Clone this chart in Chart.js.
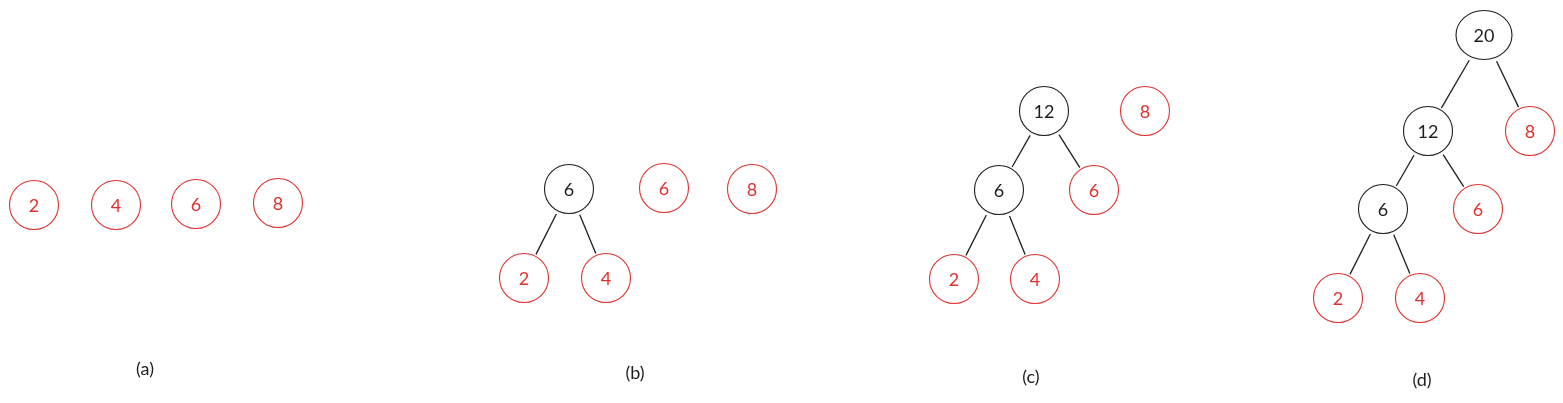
<!DOCTYPE html>
<html>
<head>
<meta charset="utf-8">
<script src="https://cdn.jsdelivr.net/npm/chart.js@4.4.1/dist/chart.umd.min.js"></script>
<style>
html,body{margin:0;padding:0;background:#fff;}
#wrap{width:1563px;height:403px;}
</style>
</head>
<body>
<div id="wrap"><canvas id="c" width="1563" height="403"></canvas></div>
<script>
// ---- data ----
const panelLabels = ['(a)', '(b)', '(c)', '(d)'];
const panelLabelX = [145, 635, 1031, 1422];
const panelLabelY = [369, 373, 377, 380];

// node weights, positions (in diagram units), and whether node is a merged (internal) node
const nodeValues = [2, 4, 6, 8,   6, 6, 8, 2, 4,   12, 8, 6, 6, 2, 4,   20, 12, 8, 6, 6, 2, 4];
const nodeX      = [34, 116, 196, 278,   569, 664, 752, 524, 606,   1044, 1145, 999, 1094, 954, 1035,   1484, 1428, 1530, 1383, 1478, 1338, 1420];
const nodeY      = [205, 205, 204, 203,  189, 188, 189, 278, 278,   111, 111, 190, 190, 279, 279,   35, 131, 131, 209, 209, 298, 298];
const nodeMerged = [0, 0, 0, 0,   1, 0, 0, 0, 0,   1, 0, 1, 0, 0, 0,   1, 1, 0, 1, 0, 0, 0];
const wideNodes  = [15];

// edges: [parent, child]
const edgeFrom = [4, 4,   9, 9, 11, 11,   15, 15, 16, 16, 18, 18];
const edgeTo   = [7, 8,   11, 12, 13, 14,  16, 17, 18, 19, 20, 21];

// ---- style ----
const RED = '#e03131';
const INK = '#1e1e1e';
const R = 24.5;          // circle radius
const EA = 28.5, EB = 25; // ellipse radii for wide node
const FONT = '18px Lato, "DejaVu Sans", sans-serif';

function nodeRadius(i, dx, dy) {
  if (wideNodes.includes(i)) {
    const d = Math.hypot(dx, dy);
    const c = dx / d, s = dy / d;
    return 1 / Math.sqrt((c / EA) * (c / EA) + (s / EB) * (s / EB));
  }
  return R;
}

// ellipse point style
const ell = document.createElement('canvas');
ell.width = 62; ell.height = 56;
{
  const g = ell.getContext('2d');
  g.beginPath();
  g.ellipse(31, 28, EA - 0.5, EB - 0.5, 0, 0, Math.PI * 2);
  g.fillStyle = '#fff'; g.fill();
  g.lineWidth = 1.1; g.strokeStyle = INK; g.stroke();
}

const nodePoints = nodeValues.map((v, i) => ({ x: nodeX[i], y: nodeY[i] }));

const edgeDatasets = edgeFrom.map((p, k) => {
  const c = edgeTo[k];
  const dx = nodeX[c] - nodeX[p], dy = nodeY[c] - nodeY[p];
  const d = Math.hypot(dx, dy);
  const ux = dx / d, uy = dy / d;
  const rp = nodeRadius(p, dx, dy) + 3.5;
  const rc = nodeRadius(c, -dx, -dy) + 2;
  return {
    type: 'scatter',
    data: [
      { x: nodeX[p] + ux * rp, y: nodeY[p] + uy * rp },
      { x: nodeX[c] - ux * rc, y: nodeY[c] - uy * rc }
    ],
    showLine: true,
    borderColor: INK,
    borderWidth: 1.3,
    pointRadius: 0,
    order: 1
  };
});

const labelPlugin = {
  id: 'labels',
  afterDatasetsDraw(chart) {
    const ctx = chart.ctx;
    ctx.save();
    ctx.font = FONT;
    ctx.textAlign = 'center';
    ctx.textBaseline = 'middle';
    const nm = chart.getDatasetMeta(0);
    nm.data.forEach((el, i) => {
      ctx.fillStyle = nodeMerged[i] ? INK : RED;
      ctx.fillText(String(nodeValues[i]), el.x, el.y + 1);
    });
    const lm = chart.getDatasetMeta(1);
    ctx.fillStyle = INK;
    lm.data.forEach((el, i) => {
      ctx.fillText(panelLabels[i], el.x, el.y);
    });
    ctx.restore();
  }
};

new Chart(document.getElementById('c'), {
  type: 'scatter',
  data: {
    datasets: [
      {
        data: nodePoints,
        pointStyle: nodeValues.map((v, i) => wideNodes.includes(i) ? ell : 'circle'),
        pointRadius: R,
        pointBorderWidth: 1.1,
        pointBackgroundColor: '#fff',
        pointBorderColor: nodeValues.map((v, i) => nodeMerged[i] ? INK : RED),
        showLine: false,
        order: 0
      },
      {
        data: panelLabels.map((t, i) => ({ x: panelLabelX[i], y: panelLabelY[i] })),
        pointRadius: 0,
        showLine: false,
        order: 0
      },
      ...edgeDatasets
    ]
  },
  options: {
    responsive: false,
    animation: false,
    events: [],
    layout: { padding: 0, autoPadding: false },
    plugins: { legend: { display: false }, tooltip: { enabled: false } },
    scales: {
      x: { type: 'linear', min: 0, max: 1563, display: false },
      y: { type: 'linear', min: 0, max: 403, reverse: true, display: false }
    }
  },
  plugins: [labelPlugin]
});
</script>
</body>
</html>
